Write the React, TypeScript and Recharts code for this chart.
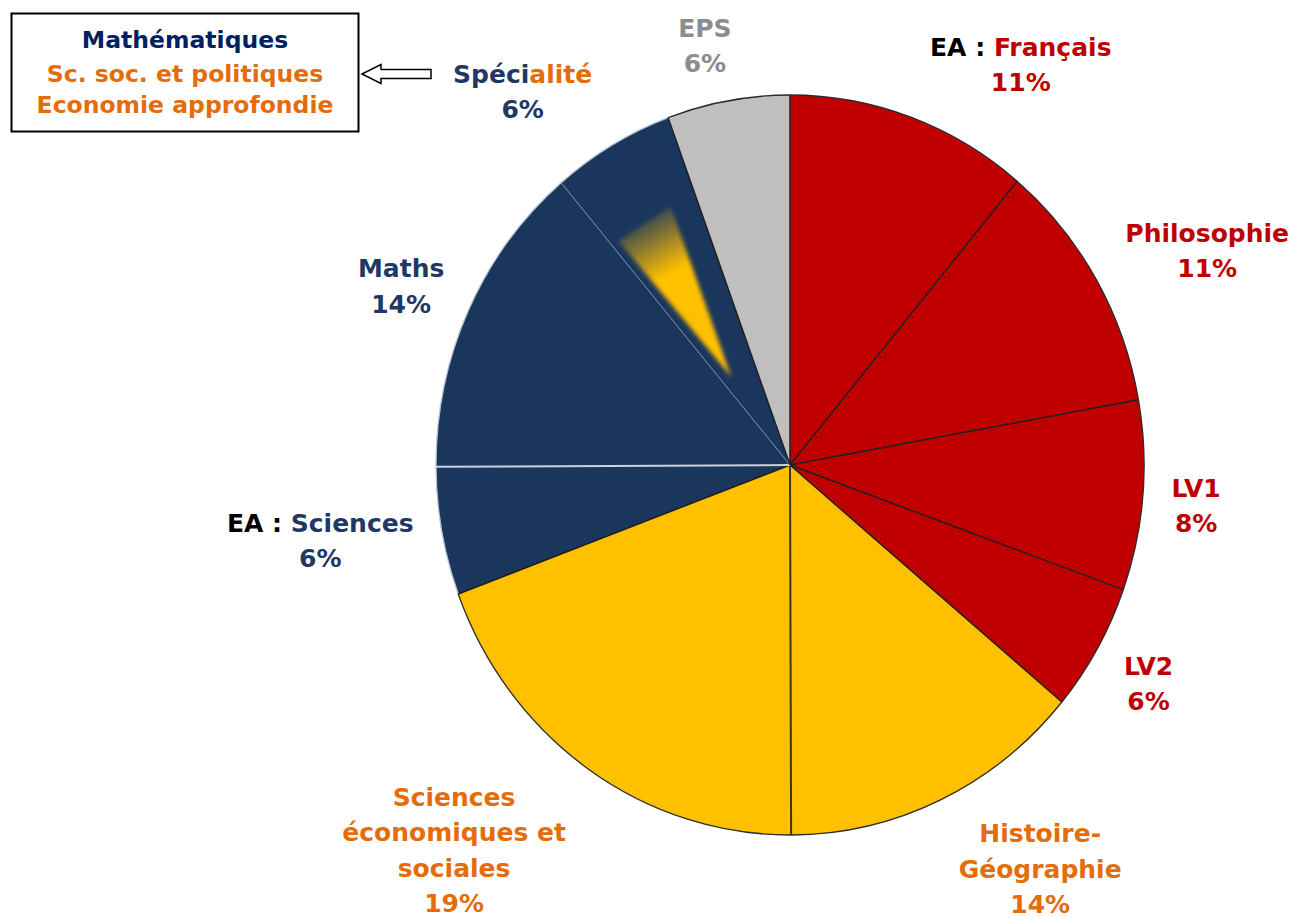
import React from "react";
import { PieChart, Pie, Cell } from "recharts";

// subject shares (hours / total), clockwise from 12 o'clock
const SUBJECTS = [
  "Français",
  "Philosophie",
  "LV1",
  "LV2",
  "Histoire-Géographie",
  "Sciences économiques et sociales",
  "EA Sciences",
  "Maths",
  "Spécialité",
  "EPS",
];
const SHARES = [11.1, 11.1, 8.3, 5.6, 13.9, 19.4, 5.6, 13.9, 5.6, 5.6];

// label text; "|" splits a line into two coloured parts
const LABEL_LINES = [
  ["EA : |Français"],
  ["Philosophie"],
  ["LV1"],
  ["LV2"],
  ["Histoire-", "Géographie"],
  ["Sciences", "économiques et", "sociales"],
  ["EA : |Sciences"],
  ["Maths"],
  ["Spéci|alité"],
  ["EPS"],
];

const BOX_LINES = ["Mathématiques", "Sc. soc. et politiques", "Economie approfondie"];

// colours
const RED = "#C00000";
const YELLOW = "#FFC000";
const NAVY = "#1A365D";
const GREY = "#BFBFBF";
const ORANGE = "#E46C0A";
const NAVY_TXT = "#1F3864";
const GREY_TXT = "#8C8C8C";
const DARK = "#1f1f1f";

const SLICE_COLORS = [RED, RED, RED, RED, YELLOW, YELLOW, NAVY, NAVY, NAVY, GREY];
const LABEL_COLORS = [
  ["#000000", RED],
  [RED],
  [RED],
  [RED],
  [ORANGE],
  [ORANGE],
  ["#000000", NAVY_TXT],
  [NAVY_TXT],
  [NAVY_TXT, ORANGE],
  [GREY_TXT],
];
const PCT_COLORS = [RED, RED, RED, RED, ORANGE, ORANGE, NAVY_TXT, NAVY_TXT, NAVY_TXT, GREY_TXT];
const BOX_COLORS = ["#002060", ORANGE, ORANGE];

// edge drawn at the start of each slice (the boundary with the previous one)
const EDGE_COLORS = [DARK, DARK, DARK, DARK, DARK, "#3d3520", DARK, "#c9d1dc", "#7a8ba3", DARK];
const EDGE_WIDTHS = [1.5, 1.5, 1.5, 1.5, 1.5, 2, 1.5, 2, 1, 1.5];

// label placement: radius factor and angular nudge from the slice middle
const LABEL_R = [1.249, 1.268, 1.103, 1.135, 1.284, 1.381, 1.286, 1.157, 1.241, 1.157];
const LABEL_SHIFT = [-10, -2.9, -0.9, -1.6, 6.6, -6.4, -1.2, 0, 5.4, 1.4];
const LINE_H = 35.5;
const FONT = "'DejaVu Sans', Verdana, sans-serif";

const RAD = Math.PI / 180;
const X_SCALE = 354 / 370; // the pie is slightly squashed horizontally
const SPOT = SUBJECTS.indexOf("Spécialité");

const tableData = SUBJECTS.map((name, idx) => ({ name, value: SHARES[idx], idx }));

function pt(cx: number, cy: number, r: number, deg: number): [number, number] {
  return [cx + r * X_SCALE * Math.cos(-deg * RAD), cy + r * Math.sin(-deg * RAD)];
}

function arcPath(cx: number, cy: number, r: number, a0: number, a1: number) {
  const [x0, y0] = pt(cx, cy, r, a0);
  const [x1, y1] = pt(cx, cy, r, a1);
  const large = Math.abs(a0 - a1) > 180 ? 1 : 0;
  const sweep = a0 > a1 ? 1 : 0;
  return { x0, y0, d: `A${r * X_SCALE},${r} 0 ${large} ${sweep} ${x1},${y1}` };
}

function FillSector(props: any) {
  const { cx, cy, outerRadius, startAngle, endAngle, fill } = props;
  const i = props.idx ?? props.payload?.idx;
  const a = arcPath(cx, cy, outerRadius, startAngle, endAngle);
  const d = `M${cx},${cy} L${a.x0},${a.y0} ${a.d} Z`;

  // yellow "spotlight" drawn inside the Spécialité slice
  let spot = null;
  if (i === SPOT) {
    const span = endAngle - startAngle;
    const [bx0, by0] = pt(cx, cy, outerRadius * 0.775, startAngle + span * 0.08);
    const [bx1, by1] = pt(cx, cy, outerRadius * 0.775, startAngle + span * 0.72);
    const [tx, ty] = pt(cx, cy, outerRadius * 0.29, startAngle + span * 0.27);
    spot = (
      <g>
        <defs>
          <linearGradient id="spotGrad" gradientUnits="userSpaceOnUse" x1={tx} y1={ty} x2={(bx0 + bx1) / 2} y2={(by0 + by1) / 2}>
            <stop offset="0" stopColor={YELLOW} stopOpacity={1} />
            <stop offset="0.68" stopColor={YELLOW} stopOpacity={1} />
            <stop offset="1" stopColor={YELLOW} stopOpacity={0.2} />
          </linearGradient>
          <filter id="spotBlur" x="-30%" y="-30%" width="160%" height="160%">
            <feGaussianBlur stdDeviation="2" />
          </filter>
        </defs>
        <polygon points={`${tx},${ty} ${bx0},${by0} ${bx1},${by1}`} fill="url(#spotGrad)" filter="url(#spotBlur)" />
      </g>
    );
  }

  return (
    <g>
      <path d={d} fill={fill} stroke="none" />
      {spot}
    </g>
  );
}

function EdgeSector(props: any) {
  const { cx, cy, outerRadius, startAngle, endAngle } = props;
  const i = props.idx ?? props.payload?.idx;
  const a = arcPath(cx, cy, outerRadius, startAngle, endAngle);
  const navy = SLICE_COLORS[i] === NAVY;
  return (
    <g fill="none">
      <path d={`M${a.x0},${a.y0} ${a.d}`} stroke={navy ? "#b8c2d0" : "#2b2b2b"} strokeWidth={1.3} />
      <line x1={cx} y1={cy} x2={a.x0} y2={a.y0} stroke={EDGE_COLORS[i]} strokeWidth={EDGE_WIDTHS[i]} />
    </g>
  );
}

function renderLabel(p: any) {
  const i = p.index ?? p.idx ?? p.payload?.idx;
  const r = p.outerRadius * LABEL_R[i];
  const ang = (p.midAngle + LABEL_SHIFT[i]) * RAD;
  const x = p.cx + r * Math.cos(-ang);
  const yc = p.cy + r * Math.sin(-ang);
  const lines = [...LABEL_LINES[i], `${Math.round(SHARES[i])}%`];
  const y0 = yc - ((lines.length - 1) * LINE_H) / 2 + 9;
  const cols = LABEL_COLORS[i];
  return (
    <g key={`lbl-${i}`}>
      {lines.map((line, k) => {
        const isPct = k === lines.length - 1;
        const parts = line.split("|");
        return (
          <text
            key={k}
            x={x}
            y={y0 + k * LINE_H}
            textAnchor="middle"
            fontFamily={FONT}
            fontWeight="bold"
            fontSize={25}
            style={{ whiteSpace: "pre" }}
          >
            {parts.map((s, j) => (
              <tspan key={j} fill={isPct ? PCT_COLORS[i] : cols[Math.min(j, cols.length - 1)]}>
                {s}
              </tspan>
            ))}
          </text>
        );
      })}
    </g>
  );
}

function InfoBox() {
  return (
    <svg width={1291} height={917} style={{ position: "absolute", left: 0, top: 0, pointerEvents: "none" }}>
      <rect x={11.5} y={13.5} width={347} height={118} fill="#fff" stroke="#000" strokeWidth={2} />
      {BOX_LINES.map((t, k) => (
        <text
          key={t}
          x={185}
          y={[48, 82, 113][k]}
          textAnchor="middle"
          fontFamily={FONT}
          fontWeight="bold"
          fontSize={23.5}
          fill={BOX_COLORS[k]}
        >
          {t}
        </text>
      ))}
      <polygon
        points="362,74 381,64.5 381,69.5 431,69.5 431,78.5 381,78.5 381,83.5"
        fill="#fff"
        stroke="#000"
        strokeWidth={1.5}
        strokeLinejoin="miter"
      />
    </svg>
  );
}

export default function App() {
  return (
    <div style={{ position: "absolute", left: 0, top: 0, width: 1291, height: 917, background: "#fff" }}>
      <PieChart width={1291} height={917} margin={{ top: 0, right: 0, bottom: 0, left: 0 }}>
        <Pie
          data={tableData}
          dataKey="value"
          nameKey="name"
          cx={790}
          cy={465}
          outerRadius={370}
          startAngle={90}
          endAngle={-270}
          stroke="none"
          shape={FillSector}
          inactiveShape={FillSector}
          activeShape={FillSector}
          labelLine={false}
          label={renderLabel}
          isAnimationActive={false}
        >
          {tableData.map((d) => (
            <Cell key={d.name} fill={SLICE_COLORS[d.idx]} />
          ))}
        </Pie>
        <Pie
          data={tableData}
          dataKey="value"
          nameKey="name"
          cx={790}
          cy={465}
          outerRadius={370}
          startAngle={90}
          endAngle={-270}
          fill="none"
          stroke="none"
          shape={EdgeSector}
          inactiveShape={EdgeSector}
          activeShape={EdgeSector}
          label={false}
          labelLine={false}
          legendType="none"
          isAnimationActive={false}
        />
      </PieChart>
      <InfoBox />
    </div>
  );
}
